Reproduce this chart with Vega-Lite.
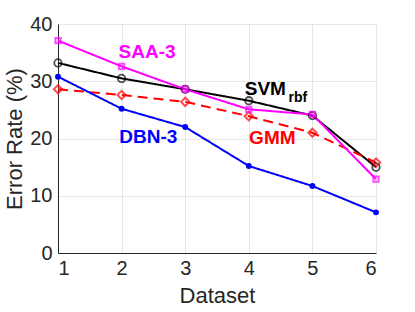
{
  "$schema": "https://vega.github.io/schema/vega-lite/v6.json",
  "width": 318,
  "height": 229,
  "autosize": "none",
  "padding": {"left": 58, "top": 24, "right": 39, "bottom": 59},
  "background": "white",
  "config": {
    "view": {"stroke": null},
    "font": "Liberation Sans",
    "axis": {
      "labelFont": "Liberation Sans",
      "titleFont": "Liberation Sans",
      "labelColor": "#262626",
      "titleColor": "#262626",
      "titleFontWeight": "normal",
      "domainColor": "#262626",
      "gridColor": "#e6e6e6",
      "tickColor": "#262626"
    }
  },
  "datasets": {
    "series": [
      {"series": "SVM", "dataset": 1, "rate": 33.2},
      {"series": "SVM", "dataset": 2, "rate": 30.5},
      {"series": "SVM", "dataset": 3, "rate": 28.6},
      {"series": "SVM", "dataset": 4, "rate": 26.6},
      {"series": "SVM", "dataset": 5, "rate": 24.0},
      {"series": "SVM", "dataset": 6, "rate": 15.0},
      {"series": "GMM", "dataset": 1, "rate": 28.6},
      {"series": "GMM", "dataset": 2, "rate": 27.6},
      {"series": "GMM", "dataset": 3, "rate": 26.4},
      {"series": "GMM", "dataset": 4, "rate": 23.9},
      {"series": "GMM", "dataset": 5, "rate": 21.0},
      {"series": "GMM", "dataset": 6, "rate": 15.8},
      {"series": "SAA", "dataset": 1, "rate": 37.1},
      {"series": "SAA", "dataset": 2, "rate": 32.6},
      {"series": "SAA", "dataset": 3, "rate": 28.6},
      {"series": "SAA", "dataset": 4, "rate": 25.1},
      {"series": "SAA", "dataset": 5, "rate": 24.2},
      {"series": "SAA", "dataset": 6, "rate": 12.9},
      {"series": "DBN", "dataset": 1, "rate": 30.8},
      {"series": "DBN", "dataset": 2, "rate": 25.2},
      {"series": "DBN", "dataset": 3, "rate": 22.0},
      {"series": "DBN", "dataset": 4, "rate": 15.2},
      {"series": "DBN", "dataset": 5, "rate": 11.7},
      {"series": "DBN", "dataset": 6, "rate": 7.1}
    ],
    "labels": [
      {"series": "SAA", "text": "SAA-3", "x": 2.40, "y": 35.1, "big": "yes"},
      {"series": "DBN", "text": "DBN-3", "x": 2.42, "y": 20.2, "big": "yes"},
      {"series": "SVM", "text": "SVM", "x": 4.26, "y": 28.7, "big": "yes"},
      {"series": "SVM", "text": "rbf", "x": 4.77, "y": 27.0, "big": "no"},
      {"series": "GMM", "text": "GMM", "x": 4.37, "y": 20.1, "big": "yes"}
    ]
  },
  "layer": [
    {
      "data": {"name": "series"},
      "mark": {"type": "line", "strokeWidth": 2, "clip": false},
      "encoding": {
        "x": {
          "field": "dataset", "type": "quantitative",
          "scale": {"domain": [1, 6], "nice": false, "zero": false},
          "axis": {"values": [1, 2, 3, 4, 5, 6], "title": "Dataset", "labelFontSize": 20, "titleFontSize": 22, "labelPadding": 5, "titlePadding": 7, "tickSize": 0, "grid": true, "format": "d"}
        },
        "y": {
          "field": "rate", "type": "quantitative",
          "scale": {"domain": [0, 40], "nice": false},
          "axis": {"values": [0, 10, 20, 30, 40], "title": "Error Rate (%)", "labelFontSize": 20, "titleFontSize": 22, "labelPadding": 6, "titlePadding": 3, "tickSize": 0, "grid": true}
        },
        "color": {
          "field": "series", "type": "nominal",
          "scale": {"domain": ["SVM", "GMM", "SAA", "DBN"], "range": ["#000000", "#ff0000", "#ff00ff", "#0000ff"]},
          "legend": null
        },
        "strokeDash": {
          "field": "series", "type": "nominal",
          "scale": {"domain": ["SVM", "GMM", "SAA", "DBN"], "range": [[1, 0], [10, 6], [1, 0], [1, 0]]},
          "legend": null
        },
        "order": {"field": "dataset", "type": "quantitative"}
      }
    },
    {
      "data": {"name": "series"},
      "transform": [{"filter": "datum.series === 'SVM'"}],
      "mark": {"type": "point", "shape": "circle", "filled": false, "stroke": "#000000", "strokeWidth": 1.8, "size": 55, "clip": false},
      "encoding": {
        "x": {"field": "dataset", "type": "quantitative"},
        "y": {"field": "rate", "type": "quantitative"}
      }
    },
    {
      "data": {"name": "series"},
      "transform": [{"filter": "datum.series === 'GMM'"}],
      "mark": {"type": "point", "shape": "diamond", "filled": false, "stroke": "#ff0000", "strokeWidth": 2, "size": 70, "clip": false},
      "encoding": {
        "x": {"field": "dataset", "type": "quantitative"},
        "y": {"field": "rate", "type": "quantitative"}
      }
    },
    {
      "data": {"name": "series"},
      "transform": [{"filter": "datum.series === 'SAA'"}],
      "mark": {"type": "point", "shape": "square", "filled": false, "stroke": "#ff00ff", "strokeWidth": 2, "size": 28, "clip": false},
      "encoding": {
        "x": {"field": "dataset", "type": "quantitative"},
        "y": {"field": "rate", "type": "quantitative"}
      }
    },
    {
      "data": {"name": "series"},
      "transform": [{"filter": "datum.series === 'DBN'"}],
      "mark": {"type": "point", "shape": "circle", "filled": true, "fill": "#0000ff", "opacity": 1, "size": 35, "clip": false},
      "encoding": {
        "x": {"field": "dataset", "type": "quantitative"},
        "y": {"field": "rate", "type": "quantitative"}
      }
    },
    {
      "data": {"name": "labels"},
      "mark": {"type": "text", "fontWeight": "bold", "font": "Liberation Sans", "align": "center", "baseline": "middle"},
      "encoding": {
        "x": {"field": "x", "type": "quantitative"},
        "y": {"field": "y", "type": "quantitative"},
        "text": {"field": "text"},
        "color": {"field": "series", "type": "nominal", "legend": null},
        "size": {
          "field": "big", "type": "nominal",
          "scale": {"domain": ["yes", "no"], "range": [19, 14]},
          "legend": null
        }
      }
    }
  ]
}
